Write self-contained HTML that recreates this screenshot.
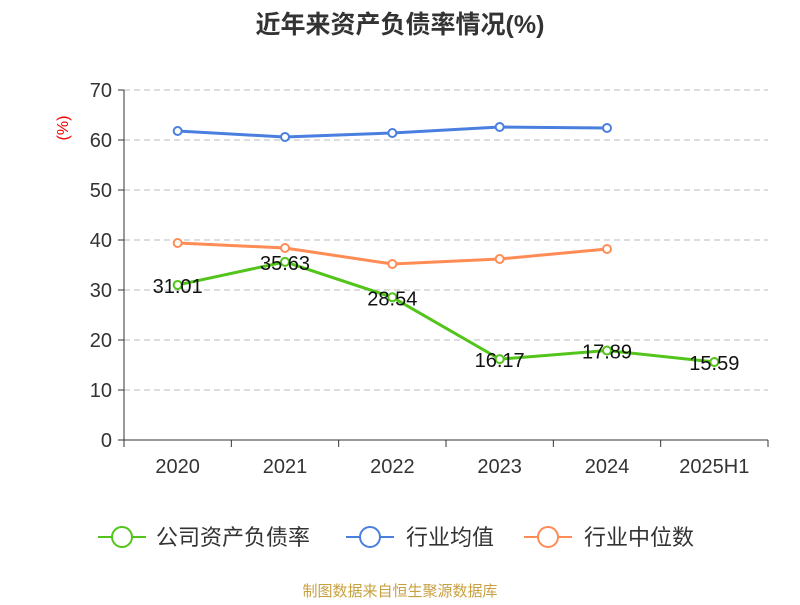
<!DOCTYPE html>
<html><head><meta charset="utf-8"><style>
body{margin:0;background:#fff;font-family:"Liberation Sans","Noto Sans CJK SC",sans-serif;}
</style></head><body>
<svg width="800" height="600" xmlns="http://www.w3.org/2000/svg" font-family="Liberation Sans, Noto Sans CJK SC, sans-serif">
<text x="400" y="33" text-anchor="middle" font-size="25" font-weight="bold" fill="#333">近年来资产负债率情况(%)</text>
<text x="68" y="128" text-anchor="middle" font-size="16" fill="#e00" transform="rotate(-90 68 128)">(%)</text>
<g id="grid"></g><g id="axes"></g><g id="series"></g>
<g>
<g><line x1="98" y1="537" x2="146" y2="537" stroke="#52c41a" stroke-width="2"/><circle cx="122" cy="537" r="10" fill="#fff" stroke="#52c41a" stroke-width="2"/><text x="156" y="545" font-size="22" fill="#333">公司资产负债率</text></g>
<g><line x1="346" y1="537" x2="394" y2="537" stroke="#4a7fe0" stroke-width="2"/><circle cx="370" cy="537" r="10" fill="#fff" stroke="#4a7fe0" stroke-width="2"/><text x="406" y="545" font-size="22" fill="#333">行业均值</text></g>
<g><line x1="524" y1="537" x2="572" y2="537" stroke="#ff8c55" stroke-width="2"/><circle cx="548" cy="537" r="10" fill="#fff" stroke="#ff8c55" stroke-width="2"/><text x="584" y="545" font-size="22" fill="#333">行业中位数</text></g>
</g>
<text x="400" y="596" text-anchor="middle" font-size="15" fill="#c8a040">制图数据来自恒生聚源数据库</text>
</svg>
<script>
const categories=["2020","2021","2022","2023","2024","2025H1"];
const companyValues=[31.01,35.63,28.54,16.17,17.89,15.59];
const industryAvg=[61.8,60.6,61.4,62.6,62.4];
const industryMedian=[39.4,38.4,35.2,36.2,38.2];
const yTicks=[0,10,20,30,40,50,60,70];
const NS="http://www.w3.org/2000/svg";
const plotLeft=124,plotRight=768,plotTop=90,plotBottom=440,yMax=70;
const band=(plotRight-plotLeft)/categories.length;
const xs=i=>plotLeft+band*(i+0.5);
const ys=v=>plotBottom-(v/yMax)*(plotBottom-plotTop);
function mk(t,a,p){const e=document.createElementNS(NS,t);for(const k in a)e.setAttribute(k,a[k]);p.appendChild(e);return e;}
const grid=document.getElementById('grid'),axes=document.getElementById('axes'),ser=document.getElementById('series');
yTicks.forEach(t=>{
 if(t>0){const g=mk('line',{x1:plotLeft,x2:plotRight,y1:ys(t),y2:ys(t),stroke:'#bbb','stroke-dasharray':'6,4'},grid);
 
 }
 const tk=mk('line',{x1:plotLeft-6,x2:plotLeft,y1:ys(t),y2:ys(t),stroke:'#333'},axes);
 
 
 const l=mk('text',{x:plotLeft-12,y:ys(t)+7,'text-anchor':'end','font-size':20,fill:'#333'},axes);l.textContent=t;
 
 
});
const ya=mk('line',{x1:plotLeft,x2:plotLeft,y1:plotTop,y2:plotBottom,stroke:'#333'},axes);


const xa=mk('line',{x1:plotLeft,x2:plotRight,y1:plotBottom,y2:plotBottom,stroke:'#333'},axes);


for(let i=0;i<=categories.length;i++){const t=mk('line',{x1:plotLeft+band*i,x2:plotLeft+band*i,y1:plotBottom,y2:plotBottom+7,stroke:'#333'},axes);
 
 }
categories.forEach((c,i)=>{const l=mk('text',{x:xs(i),y:plotBottom+33,'text-anchor':'middle','font-size':20,fill:'#333'},axes);l.textContent=c;
 
 });
function series(vals,color,name,labels){
 const pl=mk('polyline',{points:vals.map((v,i)=>xs(i)+','+ys(v)).join(' '),fill:'none',stroke:color,'stroke-width':3},ser);
 
 
 vals.forEach((v,i)=>{const c=mk('circle',{cx:xs(i),cy:ys(v),r:4,fill:'#fff',stroke:color,'stroke-width':2},ser);
  
  
  if(labels){const t=mk('text',{x:xs(i),y:ys(v)+8,'text-anchor':'middle','font-size':20,fill:'#111'},ser);t.textContent=v.toFixed(2);
   
   }
 });
}
series(industryAvg,'#4a7fe0','industry-avg',false);
series(industryMedian,'#ff8c55','industry-median',false);
series(companyValues,'#52c41a','company',true);
</script>
</body></html>
